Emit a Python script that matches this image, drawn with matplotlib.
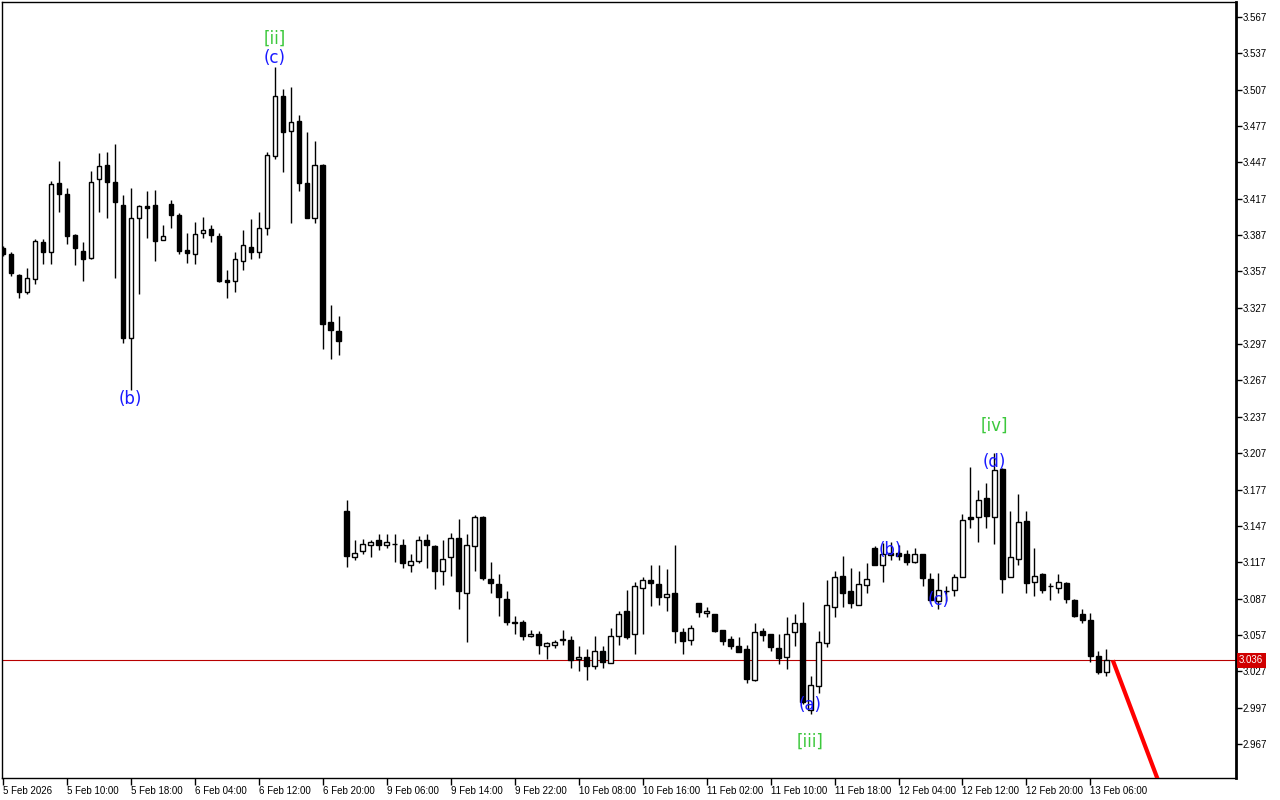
import matplotlib
matplotlib.use("Agg")
import matplotlib.pyplot as plt
import matplotlib.transforms as mtransforms
import numpy as np

opens = [
3.376, 3.371, 3.354, 3.340, 3.351, 3.381, 3.373, 3.430, 3.421, 3.387,
3.374, 3.368, 3.433, 3.445, 3.431, 3.412, 3.302, 3.401, 3.411, 3.412,
3.383, 3.413, 3.404, 3.375, 3.371, 3.389, 3.392, 3.386, 3.350, 3.349,
3.366, 3.377, 3.373, 3.393, 3.452, 3.502, 3.473, 3.481, 3.430, 3.401,
3.445, 3.315, 3.308, 3.159, 3.121, 3.126, 3.131, 3.135, 3.131, 3.132,
3.131, 3.115, 3.118, 3.135, 3.130, 3.110, 3.121, 3.137, 3.092, 3.130,
3.154, 3.103, 3.099, 3.087, 3.067, 3.068, 3.056, 3.058, 3.048, 3.049,
3.053, 3.053, 3.037, 3.039, 3.031, 3.044, 3.034, 3.056, 3.077, 3.058,
3.096, 3.102, 3.099, 3.088, 3.092, 3.059, 3.053, 3.083, 3.075, 3.074,
3.061, 3.054, 3.048, 3.045, 3.020, 3.060, 3.058, 3.046, 3.039, 3.059,
3.067, 2.995, 3.015, 3.050, 3.080, 3.106, 3.093, 3.082, 3.098, 3.129,
3.115, 3.125, 3.125, 3.124, 3.117, 3.124, 3.103, 3.085, 3.093, 3.094,
3.105, 3.154, 3.154, 3.170, 3.154, 3.194, 3.105, 3.120, 3.151, 3.101,
3.107, 3.097, 3.096, 3.100, 3.086, 3.074, 3.069, 3.040, 3.026]

highs = [
3.378, 3.373, 3.355, 3.360, 3.384, 3.384, 3.432, 3.448, 3.426, 3.388,
3.381, 3.440, 3.455, 3.456, 3.462, 3.420, 3.426, 3.412, 3.423, 3.424,
3.395, 3.416, 3.405, 3.389, 3.398, 3.402, 3.395, 3.389, 3.358, 3.373,
3.391, 3.400, 3.406, 3.456, 3.526, 3.508, 3.509, 3.486, 3.472, 3.465,
3.446, 3.329, 3.320, 3.168, 3.135, 3.136, 3.135, 3.140, 3.140, 3.140,
3.136, 3.124, 3.139, 3.140, 3.131, 3.135, 3.141, 3.153, 3.140, 3.156,
3.155, 3.117, 3.107, 3.093, 3.073, 3.069, 3.061, 3.060, 3.051, 3.053,
3.061, 3.056, 3.048, 3.045, 3.056, 3.048, 3.063, 3.077, 3.094, 3.101,
3.105, 3.115, 3.115, 3.111, 3.131, 3.063, 3.065, 3.083, 3.080, 3.074,
3.061, 3.056, 3.055, 3.049, 3.067, 3.063, 3.058, 3.058, 3.072, 3.074,
3.084, 3.023, 3.060, 3.102, 3.110, 3.122, 3.112, 3.110, 3.116, 3.130,
3.133, 3.134, 3.131, 3.127, 3.129, 3.124, 3.108, 3.108, 3.097, 3.107,
3.157, 3.196, 3.177, 3.182, 3.207, 3.195, 3.159, 3.173, 3.159, 3.129,
3.108, 3.100, 3.107, 3.101, 3.087, 3.078, 3.075, 3.044, 3.045]

lows = [
3.370, 3.353, 3.335, 3.338, 3.347, 3.363, 3.363, 3.406, 3.380, 3.362,
3.349, 3.367, 3.406, 3.401, 3.352, 3.298, 3.259, 3.338, 3.385, 3.366,
3.383, 3.393, 3.371, 3.364, 3.363, 3.385, 3.381, 3.348, 3.335, 3.340,
3.358, 3.367, 3.368, 3.387, 3.450, 3.439, 3.397, 3.423, 3.401, 3.397,
3.293, 3.285, 3.288, 3.113, 3.119, 3.124, 3.121, 3.127, 3.129, 3.117,
3.112, 3.109, 3.116, 3.112, 3.095, 3.098, 3.106, 3.078, 3.051, 3.110,
3.102, 3.092, 3.073, 3.065, 3.058, 3.053, 3.055, 3.041, 3.037, 3.046,
3.049, 3.030, 3.027, 3.020, 3.029, 3.030, 3.034, 3.049, 3.054, 3.041,
3.058, 3.081, 3.082, 3.077, 3.050, 3.041, 3.049, 3.072, 3.072, 3.059,
3.049, 3.045, 3.043, 3.017, 3.019, 3.052, 3.044, 3.033, 3.029, 3.048,
3.000, 2.992, 3.009, 3.047, 3.072, 3.080, 3.079, 3.082, 3.092, 3.115,
3.101, 3.119, 3.119, 3.115, 3.116, 3.097, 3.083, 3.078, 3.085, 3.089,
3.105, 3.145, 3.134, 3.145, 3.132, 3.092, 3.105, 3.115, 3.092, 3.089,
3.092, 3.086, 3.092, 3.083, 3.072, 3.067, 3.035, 3.025, 3.023]

closes = [
3.371, 3.356, 3.340, 3.352, 3.382, 3.373, 3.429, 3.421, 3.386, 3.376,
3.367, 3.431, 3.444, 3.431, 3.414, 3.302, 3.401, 3.411, 3.409, 3.382,
3.386, 3.404, 3.374, 3.372, 3.388, 3.391, 3.387, 3.349, 3.348, 3.367,
3.379, 3.373, 3.393, 3.453, 3.502, 3.472, 3.480, 3.430, 3.401, 3.445,
3.314, 3.309, 3.300, 3.122, 3.125, 3.132, 3.134, 3.131, 3.134, 3.132,
3.116, 3.118, 3.135, 3.131, 3.110, 3.120, 3.137, 3.093, 3.131, 3.154,
3.104, 3.100, 3.088, 3.068, 3.067, 3.056, 3.058, 3.049, 3.050, 3.051,
3.053, 3.036, 3.039, 3.031, 3.044, 3.035, 3.056, 3.074, 3.055, 3.097,
3.102, 3.100, 3.088, 3.091, 3.060, 3.052, 3.063, 3.076, 3.077, 3.060,
3.052, 3.048, 3.043, 3.021, 3.059, 3.057, 3.047, 3.038, 3.058, 3.067,
3.002, 3.016, 3.051, 3.082, 3.105, 3.092, 3.083, 3.099, 3.103, 3.115,
3.124, 3.123, 3.122, 3.117, 3.124, 3.104, 3.086, 3.094, 3.093, 3.105,
3.152, 3.153, 3.168, 3.155, 3.193, 3.103, 3.121, 3.150, 3.100, 3.106,
3.094, 3.097, 3.101, 3.087, 3.073, 3.069, 3.040, 3.026, 3.036]

time_labels = ["5 Feb 2026", "5 Feb 10:00", "5 Feb 18:00", "6 Feb 04:00", "6 Feb 12:00",
               "6 Feb 20:00", "9 Feb 06:00", "9 Feb 14:00", "9 Feb 22:00", "10 Feb 08:00",
               "10 Feb 16:00", "11 Feb 02:00", "11 Feb 10:00", "11 Feb 18:00", "12 Feb 04:00",
               "12 Feb 12:00", "12 Feb 20:00", "13 Feb 06:00"]
bars_per_label = 8

current_price = 3.036

# projection line (bar index, price)
proj_bars = [138.8, 150.0]
proj_prices = [3.036, 2.840]

# wave labels: text, bar index, price, colour
wave_text = ["[ii]", "(c)", "(b)", "(a)", "[iii]", "(b)", "(c)", "(d)", "[iv]"]
wave_bar = [34, 34, 16, 101, 101, 111, 117, 124, 124]
wave_price = [3.549, 3.533, 3.252, 2.999, 2.969, 3.127, 3.086, 3.200, 3.230]
wave_color = ["#3cc83c", "#1a1aff", "#1a1aff", "#1a1aff", "#3cc83c",
              "#1a1aff", "#1a1aff", "#1a1aff", "#3cc83c"]

y_tick_top = 3.567
y_tick_step = 0.03
y_tick_count = 21

plt.rcParams['font.family'] = ['DejaVu Sans']

fig = plt.figure(figsize=(12.8, 8), dpi=100)
ax = fig.add_axes([2 / 1280, 22 / 800, 1234 / 1280, 776 / 800])

o = np.array(opens); h = np.array(highs); l = np.array(lows); c = np.array(closes)
x = np.arange(len(o))

ax.vlines(x, l, h, color="black", linewidth=1, zorder=2)
up = c >= o
bottoms = np.minimum(o, c)
heights = np.maximum(np.abs(c - o), 0.0004)
ax.bar(x[up], heights[up], bottom=bottoms[up], width=0.55, facecolor="white",
       edgecolor="black", linewidth=1, zorder=3)
ax.bar(x[~up], heights[~up], bottom=bottoms[~up], width=0.55, facecolor="black",
       edgecolor="black", linewidth=1, zorder=3)

ax.axhline(current_price, color="#b80000", linewidth=0.8, zorder=1)
ax.plot(proj_bars, proj_prices, color="#ff0000", linewidth=3, zorder=4,
        solid_capstyle="butt")

for t, b, p, col in zip(wave_text, wave_bar, wave_price, wave_color):
    ax.text(b, p, t, color=col, fontsize=12, ha="center", va="center", zorder=5)

ax.set_xlim(-0.1, 154.2)
ax.set_ylim(2.9389, 3.5794)

yt = [y_tick_top - y_tick_step * k for k in range(y_tick_count)]
ax.yaxis.tick_right()
ax.set_yticks(yt)
ax.set_yticklabels([f"{v:.3f}" for v in yt], family="Liberation Sans")
ax.tick_params(axis="y", direction="out", length=4, width=1, labelsize=7, pad=1)

xt = [bars_per_label * k for k in range(len(time_labels))]
ax.set_xticks(xt)
ax.set_xticklabels(time_labels, ha="left", family="Liberation Sans")
ax.tick_params(axis="x", direction="out", length=5, width=1, labelsize=7, pad=1)
for lab in ax.get_xticklabels():
    lab.set_x(lab.get_position()[0])

for s in ["left", "top", "bottom"]:
    ax.spines[s].set_linewidth(1)
ax.spines["right"].set_linewidth(2)

trans = mtransforms.blended_transform_factory(ax.transAxes, ax.transData)
ax.text(1.0025, current_price, "3.036", transform=trans, color="white", fontsize=7,
        family="Liberation Sans", ha="left", va="center", zorder=6,
        bbox=dict(boxstyle="square,pad=0.25", facecolor="#d00000", edgecolor="none"))

fig.savefig("out.png", dpi=100)
